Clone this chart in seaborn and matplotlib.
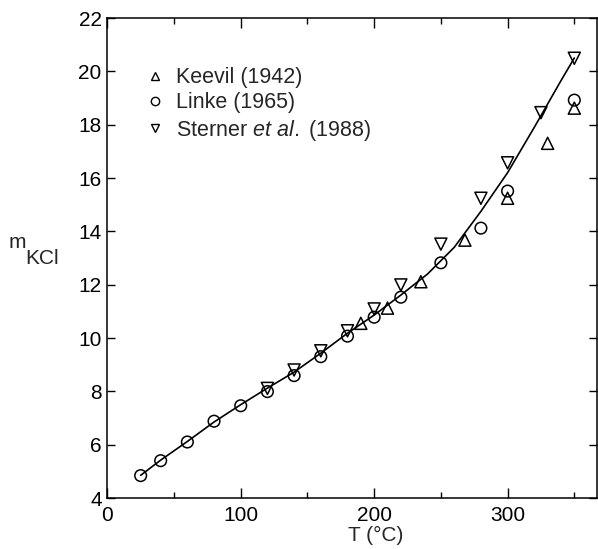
import matplotlib
matplotlib.use("Agg")
import matplotlib.pyplot as plt
import seaborn as sns
import pandas as pd
from matplotlib.ticker import MultipleLocator
from matplotlib.lines import Line2D

# ---- data ----
keevil_T = [190, 210, 235, 268, 300, 330, 350]
keevil_m = [10.55, 11.12, 12.11, 13.67, 15.24, 17.30, 18.62]

linke_T = [25, 40, 60, 80, 100, 120, 140, 160, 180, 200, 220, 250, 280, 300, 350]
linke_m = [4.84, 5.40, 6.10, 6.88, 7.46, 7.99, 8.59, 9.30, 10.07, 10.78, 11.53, 12.82, 14.12, 15.51, 18.92]

sterner_T = [120, 140, 160, 180, 200, 220, 250, 280, 300, 325, 350]
sterner_m = [8.11, 8.80, 9.52, 10.27, 11.09, 11.99, 13.52, 15.24, 16.57, 18.45, 20.49]

curve_T = [25, 40, 60, 80, 100, 120, 140, 160, 180, 200, 220, 240, 260, 280, 300, 320, 340, 350]
curve_m = [4.85, 5.42, 6.12, 6.85, 7.50, 8.12, 8.72, 9.43, 10.18, 10.86, 11.61, 12.40, 13.40, 14.75, 16.20, 17.90, 19.65, 20.50]

legend_labels = ["Keevil (1942)", "Linke (1965)", r"Sterner $\mathit{et\ al.}$ (1988)"]
x_ticks = [0, 100, 200, 300]
y_ticks = [4, 6, 8, 10, 12, 14, 16, 18, 20, 22]

sns.set_style("ticks")
plt.rcParams["font.family"] = ["Liberation Sans", "DejaVu Sans"]
plt.rcParams["mathtext.fontset"] = "custom"
plt.rcParams["mathtext.rm"] = "Liberation Sans"
plt.rcParams["mathtext.it"] = "Liberation Sans:italic"

fig = plt.figure(figsize=(5.98, 5.49), dpi=100)
ax = fig.add_axes([107.3 / 598, 1 - 498 / 549, (597 - 107.3) / 598, (498 - 18) / 549])

curve_df = pd.DataFrame({"T": curve_T, "m": curve_m})
sns.lineplot(data=curve_df, x="T", y="m", ax=ax, color="black", lw=1.2, sort=True)

common = dict(facecolor="none", edgecolor="black", linewidth=1.1, zorder=3, ax=ax)
sns.scatterplot(x=keevil_T, y=keevil_m, marker="^", s=75, **common)
sns.scatterplot(x=linke_T, y=linke_m, marker="o", s=70, **common)
sns.scatterplot(x=sterner_T, y=sterner_m, marker="v", s=75, **common)

ax.set_xlim(0, 367)
ax.set_ylim(4, 22)
ax.set_xticks(x_ticks)
ax.xaxis.set_minor_locator(MultipleLocator(50))
ax.set_yticks(y_ticks)
ax.tick_params(which="both", direction="in", top=True, right=True, width=1.0,
               labelsize=15, colors="black")
ax.tick_params(axis="x", which="major", length=7, pad=6)
ax.tick_params(axis="x", which="minor", length=4.5)
ax.tick_params(axis="y", which="major", length=6, pad=4)
for sp in ax.spines.values():
    sp.set_visible(True)
    sp.set_linewidth(1.1)
    sp.set_color("black")
ax.set_xlabel("")
ax.set_ylabel("")

fig.text(376 / 598, 1 - 535 / 549, "T (°C)", ha="center", va="center", fontsize=15)
fig.text(9 / 598, 1 - 242 / 549, "m", ha="left", va="center", fontsize=15)
fig.text(25 / 598, 1 - 258 / 549, "KCl", ha="left", va="center", fontsize=15)

handles = [
    Line2D([], [], ls="", marker="^", mfc="none", mec="black", ms=6, mew=1.0),
    Line2D([], [], ls="", marker="o", mfc="none", mec="black", ms=6, mew=1.0),
    Line2D([], [], ls="", marker="v", mfc="none", mec="black", ms=6, mew=1.0),
]
ax.legend(handles, legend_labels, loc="upper left", bbox_to_anchor=(0.058, 0.92),
          frameon=False, fontsize=15.5, handlelength=0.8, handletextpad=0.55,
          labelspacing=0.2, borderpad=0)

fig.savefig("out.png", dpi=100, facecolor="white")
